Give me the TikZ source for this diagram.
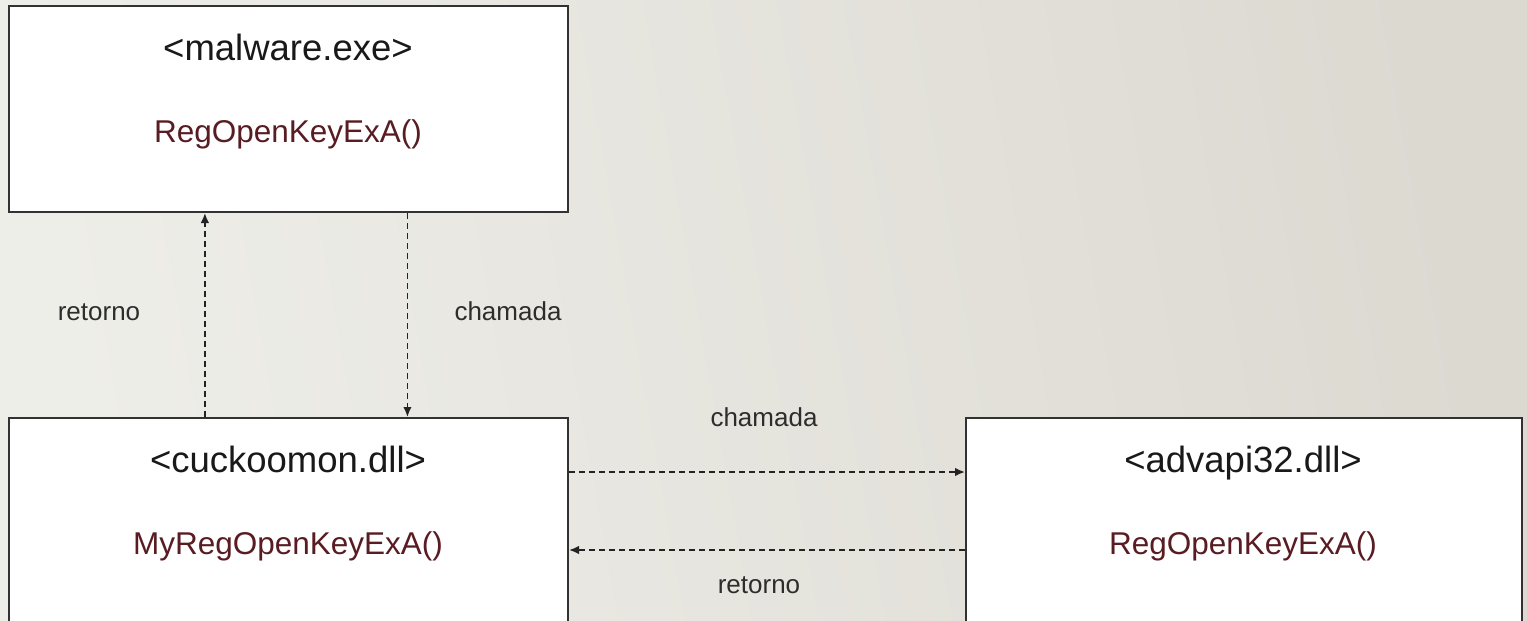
\documentclass[tikz,border=0pt]{standalone}
\usepackage{fontspec}
\setmainfont{Liberation Sans}
\usetikzlibrary{arrows.meta,calc}
\definecolor{bgL}{RGB}{238,238,233}
\definecolor{bgR}{RGB}{220,217,209}
\definecolor{boxline}{RGB}{50,50,50}
\definecolor{fncol}{RGB}{88,28,34}
\definecolor{txt}{RGB}{25,25,25}
\definecolor{lbl}{RGB}{45,45,45}
\definecolor{arr}{RGB}{35,35,35}
\begin{document}
\begin{tikzpicture}[x=1pt,y=-1pt,
  box/.style={draw=boxline, line width=2pt, fill=white, rectangle, inner sep=0pt, anchor=north west},
  head/.style={text=txt, font=\fontsize{36.5}{42}\selectfont, anchor=base, inner sep=0pt},
  func/.style={text=fncol, font=\fontsize{31.5}{38}\selectfont, anchor=base, inner sep=0pt},
  lab/.style={text=lbl, font=\fontsize{26}{31}\selectfont, anchor=base, inner sep=0pt},
  conn/.style={draw=arr, line width=1.7pt, dash pattern=on 6pt off 4pt, -{Latex[length=10pt,width=8.5pt]}}
]
\useasboundingbox (0,0) rectangle (1527,621);
\clip (0,0) rectangle (1527,621);
\shade[left color=bgL, right color=bgR, shading angle=100] (0,0) rectangle (1527,621);

% boxes
\node[box, minimum width=559pt, minimum height=206pt] (mal) at (8,5) {};
\node[box, minimum width=559pt, minimum height=230pt] (cuc) at (8,417) {};
\node[box, minimum width=556pt, minimum height=230pt] (adv) at (965,417) {};

% texts
\node[head] (malname) at (288,60) {<malware.exe>};
\node[func] (malfn) at (288,142) {RegOpenKeyExA()};
\node[head] (cucname) at (288,472) {<cuckoomon.dll>};
\node[func] (cucfn) at (288,554) {MyRegOpenKeyExA()};
\node[head] (advname) at (1243,472) {<advapi32.dll>};
\node[func] (advfn) at (1243,554) {RegOpenKeyExA()};

% labels
\node[lab] (lret1) at (99,320) {retorno};
\node[lab] (lcha1) at (508,320) {chamada};
\node[lab] (lcha2) at (764,426) {chamada};
\node[lab] (lret2) at (759,593) {retorno};

% connectors
\coordinate (c1) at ($(cuc.north west)!0.351!(cuc.north east)$);
\coordinate (c2) at ($(mal.south west)!0.712!(mal.south east)$);
\draw[conn] (c1) -- (c1 |- mal.south);
\draw[conn] (c2) -- (c2 |- cuc.north);
\coordinate (h1) at ([yshift=-55pt]cuc.north east);
\coordinate (h2) at ([yshift=-133pt]adv.north west);
\draw[conn] (h1) -- (h1 -| adv.west);
\draw[conn] (h2) -- (h2 -| cuc.east);
\end{tikzpicture}
\end{document}
